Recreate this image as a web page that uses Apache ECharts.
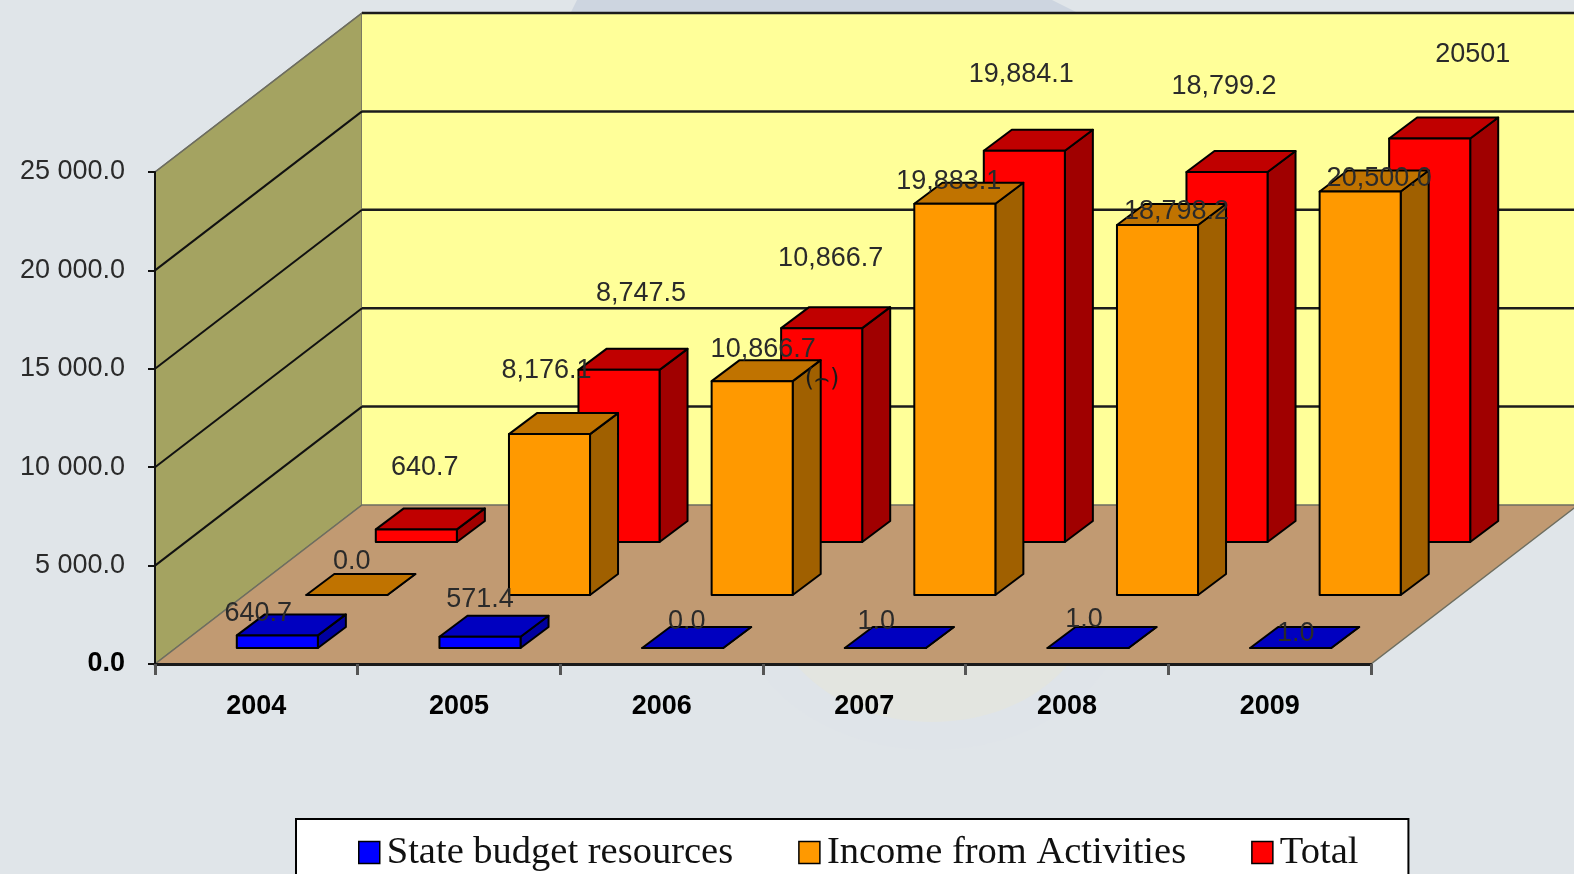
<!DOCTYPE html>
<html>
<head>
<meta charset="utf-8">
<style>html,body{margin:0;padding:0;background:#E0E5E9;overflow:hidden}#c{width:1574px;height:874px}</style>
<script src="https://cdn.jsdelivr.net/npm/echarts@6/dist/echarts.min.js"></script>
</head>
<body>
<div id="c"></div>
<script>
// ---- data ----
const years = ['2004','2005','2006','2007','2008','2009'];
const stateBudget = [640.7, 571.4, 0, 1, 1, 1];
const income = [0, 8176.1, 10866.7, 19883.1, 18798.2, 20500];
const total = [640.7, 8747.5, 10866.7, 19884.1, 18799.2, 20501];
const stateBudgetText = ['640.7','571.4','0.0','1.0','1.0','1.0'];
const incomeText = ['0.0','8,176.1','10,866.7','19,883.1','18,798.2','20,500.0'];
const totalText = ['640.7','8,747.5','10,866.7','19,884.1','18,799.2','20501'];
const gridValues = [0, 5000, 10000, 15000, 20000, 25000];
const yTickText = ['0.0','5 000.0','10 000.0','15 000.0','20 000.0','25 000.0'];

// ---- projection and style constants (pixels) ----
const WALL_DX = 207, WALL_DY = -159;      // depth of the whole box
const BAR_DX = 28, BAR_DY = -21;          // depth of one bar
const ROW0_DX = 21, ROW0_DY = -16;        // front row offset inside the floor
const ROW_DX = 69.5, ROW_DY = -53;        // spacing of the rows
const BAR_FRACTION = 0.4;
const LABEL_FONT = '27px "Liberation Sans", Arial, sans-serif';
const LABEL_COLOR = '#2a2a2a';

// hand-placed label offsets of the reference, from the front top-centre of each bar
const blueNudge = [[-19,-22],[0,-37],[4,-26],[-9,-26],[-4,-28],[5,-14]];
const orangeNudge = [[5,-33],[-3,-64],[11,-32],[-6,-22],[19,-14],[19,-13]];
const redNudge = [[8.5,-62],[22,-76],[9,-70],[-3,-76],[-3,-85],[43,-84]];

function barSeries(name, values, texts, nudges, row, front, top, side) {
  return {
    type: 'custom',
    name: name,
    z: 2,
    itemStyle: { color: front, borderColor: '#000', borderWidth: 1.5 },
    encode: { x: 0, y: 1 },
    data: values.map((v, i) => [i, v]),
    renderItem: function (params, api) {
      const i = api.value(0);
      const base = api.coord([i, 0]);
      const head = api.coord([i, api.value(1)]);
      const w = api.size([1, 0])[0] * BAR_FRACTION;
      const l = base[0] + ROW0_DX + ROW_DX * row - w / 2;
      const r = l + w;
      const dy = ROW0_DY + ROW_DY * row;
      const b = base[1] + dy;
      const t = head[1] + dy;
      const faceStyle = (fill) => ({ fill: fill, stroke: '#000', lineWidth: 2, lineJoin: 'round' });
      const z2 = 10 - row;
      const n = nudges[i];
      return {
        type: 'group',
        children: [
          { type: 'polygon', z2: z2, shape: { points: [[r, b], [r + BAR_DX, b + BAR_DY], [r + BAR_DX, t + BAR_DY], [r, t]] }, style: faceStyle(side) },
          { type: 'polygon', z2: z2, shape: { points: [[l, t], [r, t], [r + BAR_DX, t + BAR_DY], [l + BAR_DX, t + BAR_DY]] }, style: faceStyle(top) },
          { type: 'polygon', z2: z2, shape: { points: [[l, b], [r, b], [r, t], [l, t]] }, style: faceStyle(front) },
          { type: 'text', z2: 100, style: { text: texts[i], x: (l + r) / 2 + n[0], y: t + n[1], align: 'center', verticalAlign: 'middle', font: LABEL_FONT, fill: LABEL_COLOR } }
        ]
      };
    }
  };
}

const wallSeries = {
  type: 'custom',
  name: 'walls',
  z: 0,
  silent: true,
  encode: { y: 1 },
  data: gridValues.map((v) => [0, v]),
  renderItem: function (params, api) {
    const cs = params.coordSys;
    const x0 = cs.x, x1 = cs.x + cs.width;
    const y0 = api.coord([0, 0])[1];
    const yTop = api.coord([0, gridValues[gridValues.length - 1]])[1];
    const v = api.value(1);
    const y = api.coord([0, v])[1];
    const children = [];
    if (params.dataIndex === 0) {
      const edge = { stroke: '#6e6e60', lineWidth: 1.5 };
      children.push(
        { type: 'polygon', z2: 0, shape: { points: [[x0, y0], [x0 + WALL_DX, y0 + WALL_DY], [x0 + WALL_DX, yTop + WALL_DY], [x0, yTop]] }, style: Object.assign({ fill: '#A4A361' }, edge) },
        { type: 'polygon', z2: 0, shape: { points: [[x0 + WALL_DX, y0 + WALL_DY], [x1 + WALL_DX, y0 + WALL_DY], [x1 + WALL_DX, yTop + WALL_DY], [x0 + WALL_DX, yTop + WALL_DY]] }, style: { fill: '#FFFF99' } },
        { type: 'polygon', z2: 1, shape: { points: [[x0, y0], [x1, y0], [x1 + WALL_DX, y0 + WALL_DY], [x0 + WALL_DX, y0 + WALL_DY]] }, style: Object.assign({ fill: '#C19A72' }, edge) }
      );
    } else {
      const last = params.dataIndex === gridValues.length - 1;
      children.push(
        { type: 'line', z2: 2, shape: { x1: x0, y1: y, x2: x0 + WALL_DX, y2: y + WALL_DY }, style: { stroke: last ? '#6e6e60' : '#111', lineWidth: last ? 1.5 : 2 } },
        { type: 'line', z2: 2, shape: { x1: x0 + WALL_DX, y1: y + WALL_DY, x2: x1 + WALL_DX, y2: y + WALL_DY }, style: { stroke: '#1c1c1c', lineWidth: 2.5 } }
      );
    }
    return { type: 'group', children: children };
  }
};

const chart = echarts.init(document.getElementById('c'), null, { renderer: 'canvas' });
chart.setOption({
  backgroundColor: '#E0E5E9',
  animation: false,
  graphic: {
    elements: [
      { type: 'polygon', z: -1, silent: true, shape: { points: [[577, 0], [1052, 0], [1080, 14], [570, 14]] }, style: { fill: '#CDD5E0' } },
      { type: 'ellipse', z: -1, silent: true, shape: { cx: 932, cy: 600, rx: 195, ry: 150 }, style: { fill: '#DFE4E9' } },
      { type: 'ellipse', z: -1, silent: true, shape: { cx: 932, cy: 600, rx: 160, ry: 122 }, style: { fill: '#E3E5E0' } },
      { type: 'text', z: 5, silent: true, style: { text: '(\u2322)', x: 822, y: 380, align: 'center', verticalAlign: 'middle', font: '24px "DejaVu Sans", sans-serif', fill: '#1a1a1a' } }
    ]
  },
  legend: {
    left: 296,
    top: 819,
    padding: [14, 50, 36, 62],
    itemGap: 65,
    itemWidth: 21,
    itemHeight: 22,
    backgroundColor: '#fff',
    borderColor: '#000',
    borderWidth: 2,
    icon: 'rect',
    selectedMode: false,
    data: ['State budget resources', 'Income from Activities', 'Total'],
    textStyle: { fontFamily: '"Liberation Serif", "Times New Roman", serif', fontSize: 38.5, color: '#111', padding: [0, 0, 0, 2] },
    itemStyle: { borderColor: '#000', borderWidth: 1.5 }
  },
  grid: { left: 155, right: 203, top: 172, bottom: 210, containLabel: false },
  xAxis: {
    type: 'category',
    data: years,
    z: 1,
    axisLine: { show: true, lineStyle: { color: '#1a1a1a', width: 3 } },
    axisTick: { show: true, length: 11, lineStyle: { color: '#555', width: 3 } },
    axisLabel: { margin: 29, fontFamily: '"Liberation Sans", Arial, sans-serif', fontSize: 27, fontWeight: 'bold', color: '#000' },
    splitLine: { show: false }
  },
  yAxis: {
    type: 'value',
    min: 0,
    max: 25000,
    interval: 5000,
    z: 1,
    axisLine: { show: true, lineStyle: { color: '#111', width: 2 } },
    axisTick: { show: true, length: 7, lineStyle: { color: '#111', width: 2 } },
    splitLine: { show: false },
    axisLabel: {
      margin: 30,
      fontFamily: '"Liberation Sans", Arial, sans-serif',
      fontSize: 27,
      color: LABEL_COLOR,
      formatter: (v) => {
        const s = yTickText[gridValues.indexOf(v)];
        return v === 0 ? '{zero|' + s + '}' : s;
      },
      rich: { zero: { fontFamily: '"Liberation Sans", Arial, sans-serif', fontSize: 27, fontWeight: 'bold', color: '#000' } }
    }
  },
  series: [
    wallSeries,
    barSeries('Total', total, totalText, redNudge, 2, '#FF0000', '#C00000', '#A00000'),
    barSeries('Income from Activities', income, incomeText, orangeNudge, 1, '#FF9900', '#C07300', '#A06000'),
    barSeries('State budget resources', stateBudget, stateBudgetText, blueNudge, 0, '#0000FF', '#0000C0', '#0000A0')
  ]
});
</script>
</body>
</html>
